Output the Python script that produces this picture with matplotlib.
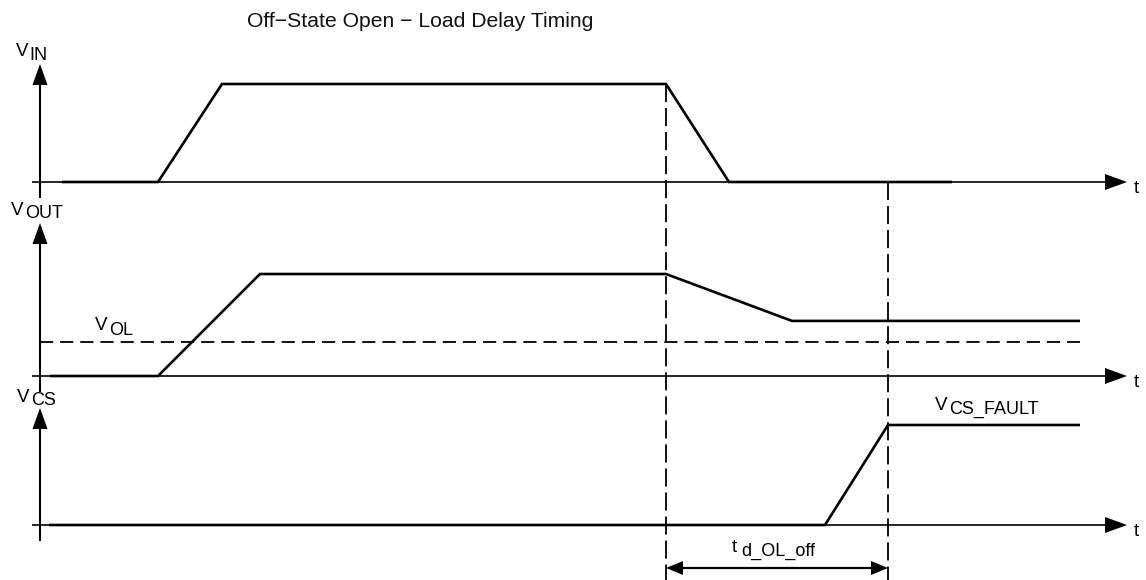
import matplotlib
matplotlib.use("Agg")
import matplotlib.pyplot as plt

plt.rcParams['font.family'] = ['Liberation Sans', 'DejaVu Sans']
plt.rcParams['lines.scale_dashes'] = False

# ---------------- data ----------------
title = "Off\u2212State Open \u2212 Load Delay Timing"

# waveform breakpoints (time units along the t axis) and normalised levels
vin_t = [62, 158, 222, 666, 729, 952]
vin_level = [0, 0, 1, 1, 0, 0]

vout_t = [50, 158, 260, 666, 792, 1080]
vout_level = [0, 0, 1, 1, 0.54, 0.54]
vol_level = 0.33
vol_t = [40, 1080]

vcs_t = [49, 825, 888, 1080]
vcs_level = [0, 0, 1, 1]

marker_t = [666, 888]          # VIN falling edge, fault flag set
delay_label = ("t", "d_OL_off")

# ---------------- layout / style ----------------
W, H = 1146, 580
base = [182, 376, 525]          # baseline of each panel
amp = [98, 102, 100]            # height of level 1 in each panel
axis_tip = [64, 223, 408]       # top of each vertical arrow
axis_x = 40
xaxis_start, xaxis_tip = 32, 1127
SIG_LW = 1.9
AX_LW = 1.2
FS_MAIN = 13.5
FS_SUB = 13.0

fig = plt.figure(figsize=(W / 100, H / 100), dpi=100)
ax = fig.add_axes([0, 0, 1, 1])
ax.set_xlim(0, W)
ax.set_ylim(H, 0)
ax.axis('off')


def ly(i, lev):
    return base[i] - amp[i] * lev


def head(tip_x, tip_y, dx, dy, length, halfw):
    bx, by = tip_x - dx * length, tip_y - dy * length
    px, py = -dy * halfw, dx * halfw
    ax.fill([tip_x, bx + px, bx - px], [tip_y, by + py, by - py],
            color='black', lw=0, zorder=5)


# axes
for i in range(3):
    ax.plot([axis_x, axis_x], [base[i] + 16, axis_tip[i] + 18], color='black', lw=AX_LW + 0.3,
            solid_capstyle='butt')
    head(axis_x, axis_tip[i], 0, -1, 21, 7.5)
    ax.plot([xaxis_start, xaxis_tip - 18], [base[i], base[i]], color='black', lw=AX_LW,
            solid_capstyle='butt')
    head(xaxis_tip, base[i], 1, 0, 22, 8)
    ax.text(1134, base[i] + 11, "t", fontsize=FS_MAIN, va='baseline', ha='left')

# signals
ax.plot(vin_t, [ly(0, v) for v in vin_level], color='black', lw=SIG_LW,
        solid_joinstyle='miter', solid_capstyle='butt', zorder=4)
ax.plot(vout_t, [ly(1, v) for v in vout_level], color='black', lw=SIG_LW,
        solid_joinstyle='miter', solid_capstyle='butt', zorder=4)
ax.plot(vcs_t, [ly(2, v) for v in vcs_level], color='black', lw=SIG_LW,
        solid_joinstyle='miter', solid_capstyle='butt', zorder=4)

# V_OL threshold
ax.plot(vol_t, [ly(1, vol_level)] * 2, color='black', lw=1.3,
        linestyle=(0, (9.5, 5)), zorder=3)

# dashed time markers
ax.plot([marker_t[0]] * 2, [ly(0, 1), H], color='black', lw=1.3,
        linestyle=(0, (13, 4.3)), zorder=3)
ax.plot([marker_t[1]] * 2, [ly(0, 0), H], color='black', lw=1.3,
        linestyle=(0, (13, 4.3)), zorder=3)

# delay dimension arrow
ay = 568
ax.plot([marker_t[0] + 12, marker_t[1] - 12], [ay, ay], color='black', lw=1.6,
        solid_capstyle='butt')
head(marker_t[0], ay, -1, 0, 17, 7)
head(marker_t[1], ay, 1, 0, 17, 7)


def sublabel(xm, ym, main, xs, ys, sub):
    ax.text(xm, ym, main, fontsize=FS_MAIN, va='baseline', ha='left')
    ax.text(xs, ys, sub, fontsize=FS_SUB, va='baseline', ha='left')


sublabel(16, 56, "V", 29, 60, "IN")
sublabel(11, 215, "V", 25, 218, "OUT")
sublabel(17, 402, "V", 31, 405, "CS")
sublabel(95, 330, "V", 109, 335, "OL")
sublabel(935, 410, "V", 949, 414, "CS_FAULT")
sublabel(732, 552, delay_label[0], 741, 556, delay_label[1])

ax.text(247, 27, title, fontsize=15.2, va='baseline', ha='left', color='#111111')

fig.savefig("out.png", dpi=100)
